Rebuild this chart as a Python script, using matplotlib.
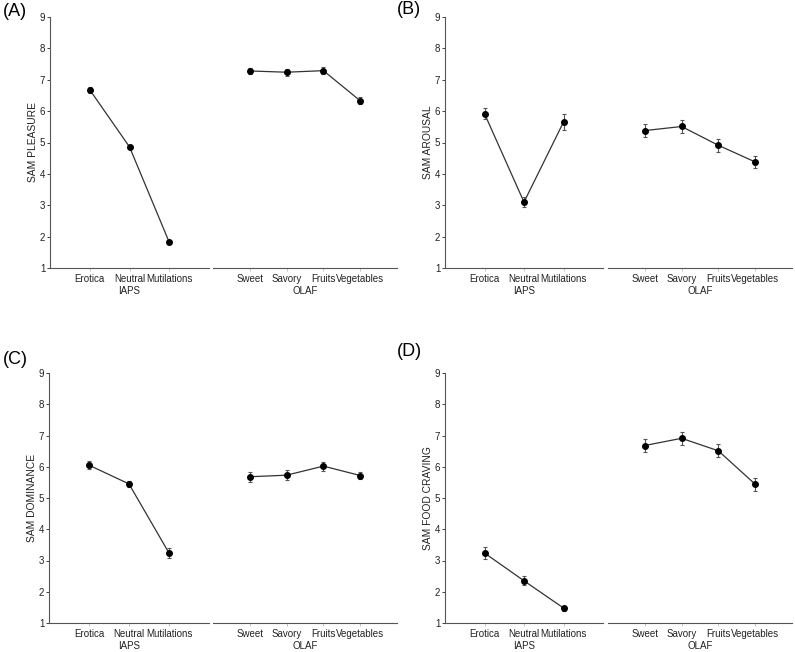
import matplotlib.pyplot as plt

plt.rcParams['font.family'] = ['Liberation Sans', 'DejaVu Sans']

iaps_labels = ["Erotica", "Neutral", "Mutilations"]
olaf_labels = ["Sweet", "Savory", "Fruits", "Vegetables"]

# SAM ratings (mean and error) per panel
pleasure_iaps = [6.68, 4.86, 1.82]
pleasure_iaps_err = [0.10, 0.04, 0.07]
pleasure_olaf = [7.28, 7.24, 7.29, 6.33]
pleasure_olaf_err = [0.11, 0.11, 0.11, 0.11]

arousal_iaps = [5.92, 3.10, 5.65]
arousal_iaps_err = [0.18, 0.15, 0.25]
arousal_olaf = [5.38, 5.51, 4.91, 4.38]
arousal_olaf_err = [0.20, 0.20, 0.20, 0.18]

dominance_iaps = [6.05, 5.45, 3.24]
dominance_iaps_err = [0.13, 0.11, 0.16]
dominance_olaf = [5.68, 5.73, 6.02, 5.72]
dominance_olaf_err = [0.16, 0.15, 0.14, 0.12]

craving_iaps = [3.24, 2.35, 1.48]
craving_iaps_err = [0.20, 0.14, 0.08]
craving_olaf = [6.68, 6.91, 6.51, 5.44]
craving_olaf_err = [0.22, 0.21, 0.21, 0.21]

W, H = 795, 652
fig = plt.figure(figsize=(W / 100, H / 100), dpi=100)

axis_col = "#555555"
line_col = "#333333"
fs = 7.0


def px_axes(x0, x1, ytop, ybot):
    return fig.add_axes([x0 / W, 1 - ybot / H, (x1 - x0) / W, (ybot - ytop) / H])


def style(ax, show_y):
    for s in ["top", "right"]:
        ax.spines[s].set_visible(False)
    ax.spines["bottom"].set_color(axis_col)
    ax.spines["left"].set_color(axis_col)
    if not show_y:
        ax.spines["left"].set_visible(False)
        ax.set_yticks([])
    else:
        ax.set_yticks(range(1, 10))
    ax.set_ylim(1, 9)
    ax.tick_params(axis="both", labelsize=fs, colors="#222222", length=2.2,
                   width=0.6, pad=1.2)
    ax.tick_params(axis="x", color="#bbbbbb", length=2, pad=2)
    ax.patch.set_alpha(0)


def draw(ax, labels, vals, errs, group):
    xs = range(1, len(labels) + 1)
    ax.errorbar(xs, vals, yerr=errs, fmt="o", color="black", ms=4,
                ecolor="#555555", elinewidth=0.8, capsize=1.5, capthick=0.8,
                zorder=3)
    ax.plot(xs, vals, color=line_col, lw=0.9, zorder=2)
    ax.set_xlim(0, len(labels) + 1)
    ax.set_xticks(list(xs))
    ax.set_xticklabels(labels)
    ax.set_xlabel(group, fontsize=fs, labelpad=2, color="#222222")


panels = [
    ("(A)", "SAM PLEASURE", pleasure_iaps, pleasure_iaps_err, pleasure_olaf, pleasure_olaf_err,
     50, 209, 213, 397, 17, 268, 3, 11),
    ("(B)", "SAM AROUSAL", arousal_iaps, arousal_iaps_err, arousal_olaf, arousal_olaf_err,
     445, 603, 608, 792, 17, 268, 397, 10),
    ("(C)", "SAM DOMINANCE", dominance_iaps, dominance_iaps_err, dominance_olaf, dominance_olaf_err,
     49, 209, 213, 397, 373, 623, 3, 360),
    ("(D)", "SAM FOOD CRAVING", craving_iaps, craving_iaps_err, craving_olaf, craving_olaf_err,
     445, 603, 608, 792, 373, 623, 397, 352),
]

for tag, ylab, iv, ie, ov, oe, x0, x1, x2, x3, yt, yb, tx, ty in panels:
    ax1 = px_axes(x0, x1, yt, yb)
    style(ax1, True)
    draw(ax1, iaps_labels, iv, ie, "IAPS")
    ax1.set_ylabel(ylab, fontsize=7.4, color="#222222", va="center")
    # y label centre sits about 17 px left of the axis line
    ax1.yaxis.set_label_coords(-17 / (x1 - x0), 0.5)
    ax2 = px_axes(x2, x3, yt, yb)
    style(ax2, False)
    draw(ax2, olaf_labels, ov, oe, "OLAF")
    fig.text(tx / W, 1 - ty / H, tag, fontsize=13, ha="left", va="center")

fig.savefig("out.png", dpi=100)
